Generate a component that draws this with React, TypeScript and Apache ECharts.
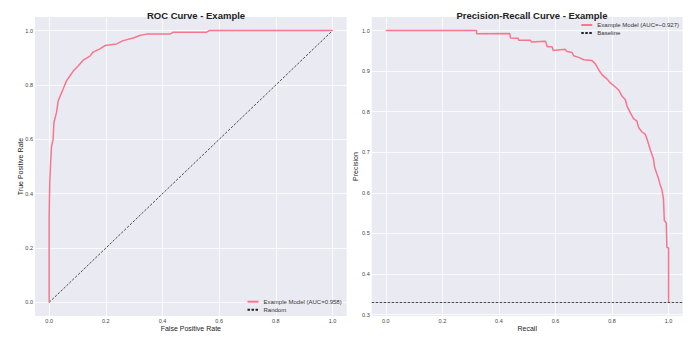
import React, { useEffect, useRef } from "react";
import * as echarts from "echarts";

const ROC_FPR = [0, 0, 0.002, 0.004, 0.005, 0.008, 0.014, 0.017, 0.026, 0.032, 0.049, 0.061, 0.073, 0.085, 0.102, 0.12, 0.144, 0.155, 0.179, 0.197, 0.238, 0.261, 0.297, 0.32, 0.344, 0.427, 0.438, 0.556, 0.565, 1.0];
const ROC_TPR = [0, 0.32, 0.44, 0.49, 0.49, 0.571, 0.6, 0.663, 0.699, 0.742, 0.784, 0.815, 0.833, 0.851, 0.87, 0.891, 0.906, 0.921, 0.933, 0.945, 0.951, 0.963, 0.973, 0.982, 0.987, 0.987, 0.994, 0.994, 1.0, 1.0];
const RANDOM_X = [0, 1];
const RANDOM_Y = [0, 1];

const PR_RECALL = [0, 0.321, 0.321, 0.438, 0.441, 0.468, 0.47, 0.512, 0.514, 0.565, 0.571, 0.588, 0.592, 0.635, 0.639, 0.659, 0.664, 0.682, 0.7, 0.729, 0.741, 0.753, 0.765, 0.782, 0.794, 0.812, 0.824, 0.835, 0.847, 0.853, 0.865, 0.876, 0.888, 0.894, 0.906, 0.918, 0.926, 0.935, 0.947, 0.95, 0.953, 0.959, 0.965, 0.971, 0.976, 0.982, 0.985, 0.992, 0.994, 1.0, 1.0];
const PR_PRECISION = [1.0, 1.0, 0.992, 0.993, 0.9815, 0.981, 0.976, 0.976, 0.972, 0.974, 0.96, 0.96, 0.951, 0.954, 0.949, 0.946, 0.938, 0.934, 0.928, 0.926, 0.918, 0.903, 0.891, 0.881, 0.871, 0.861, 0.853, 0.839, 0.83, 0.814, 0.797, 0.783, 0.777, 0.761, 0.75, 0.744, 0.728, 0.707, 0.683, 0.665, 0.658, 0.646, 0.634, 0.618, 0.609, 0.585, 0.532, 0.526, 0.466, 0.464, 0.33];
const BASELINE = 0.33;

const X_TICKS = [0, 0.2, 0.4, 0.6, 0.8, 1.0];
const ROC_Y_TICKS = [0, 0.2, 0.4, 0.6, 0.8, 1.0];
const PR_Y_TICKS = [0.3, 0.4, 0.5, 0.6, 0.7, 0.8, 0.9, 1.0];

const MODEL_ROC = "Example Model (AUC=0.958)";
const MODEL_PR = "Example Model (AUC=~0.927)";

const FONT = "Liberation Sans, Arial, sans-serif";
const PINK = "#f7768c";

export default function App() {
  const ref = useRef<HTMLDivElement>(null);
  useEffect(() => {
    if (!ref.current) return;
    const chart = echarts.init(ref.current, undefined, { renderer: "svg" });
    const axisCommon = (vals: number[], isX: boolean) => ({
      type: "value" as const,
      axisLine: { show: false },
      axisTick: { show: false, customValues: vals },
      axisLabel: {
        customValues: vals,
        fontSize: 5.5,
        color: "#444",
        fontFamily: FONT,
        margin: isX ? 1.5 : 2,
        formatter: (v: number) => v.toFixed(1),
      },
      splitLine: { show: true, lineStyle: { color: "#ffffff", width: 0.8 } },
      nameLocation: "middle" as const,
      nameMoveOverlap: false,
      nameTextStyle: { fontSize: 7, color: "#222", fontFamily: FONT },
    });
    const legendCommon = {
      orient: "vertical" as const,
      padding: 0,
      itemWidth: 11,
      itemHeight: 8,
      itemGap: 0,
      itemStyle: { opacity: 0 },
      textStyle: { fontSize: 6, color: "#333", fontFamily: FONT, lineHeight: 8 },
    };
    chart.setOption({
      animation: false,
      backgroundColor: "#ffffff",
      textStyle: { fontFamily: FONT },
      title: [
        { text: "ROC Curve - Example", left: 191, textAlign: "center", top: 5, textStyle: { fontSize: 9.5, fontWeight: "bold", color: "#222", fontFamily: FONT } },
        { text: "Precision-Recall Curve - Example", left: 527, textAlign: "center", top: 5, textStyle: { fontSize: 9.5, fontWeight: "bold", color: "#222", fontFamily: FONT } },
      ],
      grid: [
        { left: 35, right: 341.3, top: 17, bottom: 18.6, show: true, backgroundColor: "#eaeaf2", borderWidth: 0 },
        { left: 371.7, right: 5.3, top: 17, bottom: 19.7, show: true, backgroundColor: "#eaeaf2", borderWidth: 0 },
      ],
      xAxis: [
        { ...axisCommon(X_TICKS, true), gridIndex: 0, min: -0.05, max: 1.05, name: "False Positive Rate", nameGap: 9 },
        { ...axisCommon(X_TICKS, true), gridIndex: 1, min: -0.05, max: 1.05, name: "Recall", nameGap: 9 },
      ],
      yAxis: [
        { ...axisCommon(ROC_Y_TICKS, false), gridIndex: 0, min: -0.05, max: 1.05, name: "True Positive Rate", nameGap: 10.8 },
        { ...axisCommon(PR_Y_TICKS, false), gridIndex: 1, min: 0.2965, max: 1.0335, name: "Precision", nameGap: 12.7 },
      ],
      legend: [
        { ...legendCommon, data: [MODEL_ROC, "Random"], right: 346.3, top: 297.7 },
        { ...legendCommon, data: [MODEL_PR, "Baseline"], right: 9, top: 21 },
      ],
      series: [
        {
          name: MODEL_ROC,
          type: "line",
          xAxisIndex: 0,
          yAxisIndex: 0,
          symbol: "none",
          data: ROC_FPR.map((x, i) => [x, ROC_TPR[i]]),
          lineStyle: { color: PINK, width: 1.5 },
          itemStyle: { color: PINK },
          z: 3,
        },
        {
          name: "Random",
          type: "line",
          xAxisIndex: 0,
          yAxisIndex: 0,
          symbol: "none",
          data: RANDOM_X.map((x, i) => [x, RANDOM_Y[i]]),
          lineStyle: { color: "#222", width: 0.8, type: [2.5, 1.5] },
          itemStyle: { color: "#222" },
          z: 2,
        },
        {
          name: MODEL_PR,
          type: "line",
          xAxisIndex: 1,
          yAxisIndex: 1,
          symbol: "none",
          data: PR_RECALL.map((x, i) => [x, PR_PRECISION[i]]),
          lineStyle: { color: PINK, width: 1.5 },
          itemStyle: { color: PINK },
          z: 3,
        },
        {
          name: "Baseline",
          type: "line",
          xAxisIndex: 1,
          yAxisIndex: 1,
          symbol: "none",
          data: [],
          lineStyle: { color: "#222", width: 0.8, type: [2.5, 1.5] },
          itemStyle: { color: "#222" },
          markLine: {
            silent: true,
            symbol: "none",
            label: { show: false },
            lineStyle: { color: "#222", width: 0.8, type: [2.5, 1.5] },
            data: [{ yAxis: BASELINE }],
          },
          z: 2,
        },
      ],
    });
    return () => chart.dispose();
  }, []);
  return <div ref={ref} style={{ position: "fixed", left: 0, top: 0, width: 688, height: 337 }} />;
}
